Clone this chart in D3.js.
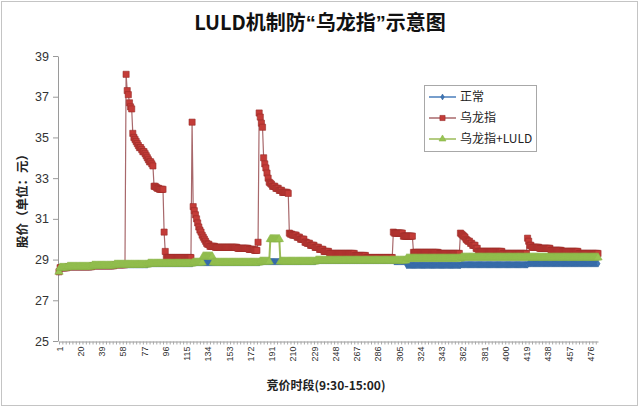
<!DOCTYPE html>
<html>
<head>
<meta charset="utf-8">
<script src="https://cdn.jsdelivr.net/npm/d3@7"></script>
<style>
  body { margin: 0; background: #fff; }
  svg { display: block; font-family: "Noto Sans CJK SC", "Noto Sans", sans-serif; }
</style>
</head>
<body>
<svg id="chart" width="640" height="408"></svg>
<script>
// axis labels
var xTickLabels = [1, 20, 39, 58, 77, 96, 115, 134, 153, 172, 191, 210, 229, 248, 267, 286, 305, 324, 343, 362, 381, 400, 419, 438, 457, 476];
var yTicks = [25, 27, 29, 31, 33, 35, 37, 39];
var seriesNames = ["正常", "乌龙指", "乌龙指+LULD"];

// prices, written as runs of [periods, price]
var normalRuns = [
  [1, 28.4], [7, 28.6], [22, 28.65], [20, 28.7], [30, 28.75], [40, 28.8], [60, 28.85],
  [50, 28.9], [70, 28.95], [11, 28.9], [49, 28.72], [60, 28.75], [63, 28.8]
];

var fatFingerRuns = [
  [1, 28.4], [7, 28.6], [22, 28.65], [20, 28.7], [10, 28.75],
  [1, 38.1], [1, 37.3], [1, 37.1], [1, 36.7], [1, 36.5], [1, 36.4],
  [1, 35.2], [1, 35.0], [1, 34.9], [1, 34.8], [1, 34.7], [1, 34.6], [2, 34.5], [1, 34.4],
  [2, 34.3], [1, 34.2], [1, 34.1], [1, 34.0], [1, 33.9], [2, 33.8], [1, 33.7], [1, 33.6],
  [2, 32.6], [1, 32.55], [2, 32.5], [4, 32.45], [1, 30.35], [1, 29.4], [23, 29.1],
  [1, 35.75], [1, 31.6], [1, 31.4], [1, 31.2], [1, 31.0], [1, 30.8], [1, 30.6], [1, 30.45],
  [1, 30.35], [1, 30.2], [1, 30.1], [1, 30.0], [1, 29.9], [1, 29.8], [2, 29.75], [5, 29.65],
  [20, 29.6], [10, 29.55], [5, 29.5], [3, 29.45],
  [1, 29.85], [1, 36.2], [1, 36.0], [1, 35.7], [1, 35.5], [1, 34.0], [1, 33.7], [1, 33.5],
  [1, 33.25], [1, 33.0], [1, 32.8], [1, 32.75], [1, 32.7], [3, 32.6], [3, 32.5], [3, 32.4],
  [5, 32.3], [1, 32.25], [1, 30.3], [2, 30.25], [4, 30.2], [3, 30.1], [4, 30.0], [2, 29.85],
  [3, 29.8], [4, 29.7], [4, 29.6], [4, 29.5], [5, 29.4], [23, 29.3], [10, 29.2], [24, 29.1],
  [1, 30.35], [8, 30.3], [9, 30.15], [23, 29.35], [19, 29.3],
  [1, 30.3], [1, 30.25], [1, 30.2], [1, 30.15], [1, 30.1], [1, 30.0], [1, 29.95], [2, 29.9],
  [2, 29.8], [3, 29.7], [2, 29.55], [22, 29.4], [22, 29.3],
  [1, 30.05], [1, 29.9], [2, 29.7], [7, 29.6], [10, 29.55], [10, 29.45], [15, 29.4], [18, 29.3]
];

var luldRuns = [
  [1, 28.4], [7, 28.6], [22, 28.65], [20, 28.7], [30, 28.75], [40, 28.8], [9, 28.85],
  [9, 29.15], [42, 28.85], [9, 28.9], [9, 30.0], [32, 28.9], [70, 28.95], [11, 28.95],
  [49, 29.05], [60, 29.1], [63, 29.1]
];

function expand(runs) {
  var out = [];
  runs.forEach(function(r) {
    for (var i = 0; i < r[0]; i++) out.push(r[1]);
  });
  return out;
}

var normal = expand(normalRuns),
    fatFinger = expand(fatFingerRuns),
    luld = expand(luldRuns);
var n = normal.length;

var svg = d3.select("#chart");

// chart frame
svg.append("rect")
    .attr("x", 1.5).attr("y", 1.5)
    .attr("width", 636).attr("height", 404)
    .attr("fill", "#fff")
    .attr("stroke", "#c4c4c4");

var x = d3.scaleLinear().domain([1, n]).range([59, 598]);
var y = d3.scaleLinear().domain([25, 39]).range([341, 56]);

// y axis
var yAxis = svg.append("g")
    .attr("transform", "translate(58,0)")
    .call(d3.axisLeft(y).tickValues(yTicks).tickSize(5).tickPadding(4).tickSizeOuter(0));
yAxis.select(".domain").attr("stroke", "#9a9a9a");
yAxis.selectAll(".tick line").attr("stroke", "#9a9a9a");
yAxis.selectAll(".tick text")
    .attr("fill", "#333")
    .style("font-size", "12.5px")
    .style("font-family", "'Liberation Sans', 'Noto Sans', sans-serif");

// x axis: small ticks and rotated category labels
var xMinor = svg.append("g")
    .attr("transform", "translate(0,341.5)")
    .call(d3.axisBottom(x).tickValues(d3.range(1, n + 1, 3)).tickSize(3).tickFormat("").tickSizeOuter(0));
xMinor.select(".domain").attr("stroke", "#9a9a9a");
xMinor.selectAll(".tick line").attr("stroke", "#a8a8a8");

var xAxis = svg.append("g")
    .attr("transform", "translate(0,341.5)")
    .call(d3.axisBottom(x).tickValues(xTickLabels).tickSize(0));
xAxis.select(".domain").remove();
xAxis.selectAll(".tick text")
    .attr("transform", "rotate(-90)")
    .attr("x", -5)
    .attr("y", 0)
    .attr("dy", "0.35em")
    .attr("text-anchor", "end")
    .attr("fill", "#333")
    .style("font-size", "9px")
    .style("font-family", "'Liberation Sans', 'Noto Sans', sans-serif");

// series
var series = [
  { name: seriesNames[0], values: normal, line: "#4a7ebb", width: 1.2, fill: "#3f77b8", stroke: "#2f5f99", symbol: d3.symbolDiamond, size: 14 },
  { name: seriesNames[1], values: fatFinger, line: "#a8686b", width: 1.2, fill: "#c43c38", stroke: "#9a2c29", symbol: d3.symbolSquare, size: 38 },
  { name: seriesNames[2], values: luld, line: "#9bbb59", width: 2, fill: "#98c452", stroke: "#8ab548", symbol: d3.symbolTriangle, size: 30 }
];

var line = d3.line()
    .x(function(d, i) { return x(i + 1); })
    .y(function(d) { return y(d); });

series.forEach(function(s) {
  var g = svg.append("g");
  g.append("path")
      .attr("d", line(s.values))
      .attr("fill", "none")
      .attr("stroke", s.line)
      .attr("stroke-width", s.width);
  g.selectAll("path.mark")
    .data(s.values)
    .join("path")
      .attr("class", "mark")
      .attr("transform", function(d, i) { return "translate(" + x(i + 1) + "," + y(d) + ")"; })
      .attr("d", d3.symbol().type(s.symbol).size(s.size))
      .attr("fill", s.fill)
      .attr("stroke", s.stroke)
      .attr("stroke-width", 0.6);
});

// legend
var legend = svg.append("g");
legend.append("rect")
    .attr("x", 424.5).attr("y", 85.5)
    .attr("width", 112).attr("height", 66)
    .attr("fill", "#fff")
    .attr("stroke", "#a8a8a8");

var item = legend.selectAll("g.item")
    .data(series)
    .join("g")
      .attr("class", "item")
      .attr("transform", function(d, i) { return "translate(0," + (97 + i * 21) + ")"; });
item.append("line")
    .attr("x1", 429).attr("x2", 456)
    .attr("stroke", function(d) { return d.line; })
    .attr("stroke-width", 1.5);
item.append("path")
    .attr("transform", "translate(442.5,0)")
    .attr("d", function(d) { return d3.symbol().type(d.symbol).size(d.size * 0.7)(); })
    .attr("fill", function(d) { return d.fill; })
    .attr("stroke", function(d) { return d.stroke; })
    .attr("stroke-width", 0.6);
item.append("text")
    .attr("x", 460)
    .attr("dy", "0.36em")
    .attr("fill", "#222")
    .style("font-size", "12px")
    .text(function(d) { return d.name; });

// titles
var title = svg.append("text")
    .attr("x", 320).attr("y", 30)
    .attr("text-anchor", "middle")
    .attr("fill", "#111")
    .style("font-size", "20px")
    .style("font-weight", "bold");
title.append("tspan").text("LULD机制防");
title.append("tspan").style("font-family", "'Liberation Sans', sans-serif").text("“");
title.append("tspan").text("乌龙指");
title.append("tspan").style("font-family", "'Liberation Sans', sans-serif").text("”");
title.append("tspan").text("示意图");

svg.append("text")
    .attr("transform", "translate(27,198) rotate(-90)")
    .attr("text-anchor", "middle")
    .attr("fill", "#222")
    .style("font-size", "12.5px")
    .style("font-weight", "bold")
    .text("股价（单位：元）");

svg.append("text")
    .attr("x", 326).attr("y", 390)
    .attr("text-anchor", "middle")
    .attr("fill", "#222")
    .style("font-size", "12px")
    .style("font-weight", "bold")
    .text("竞价时段(9:30-15:00)");
</script>
</body>
</html>
